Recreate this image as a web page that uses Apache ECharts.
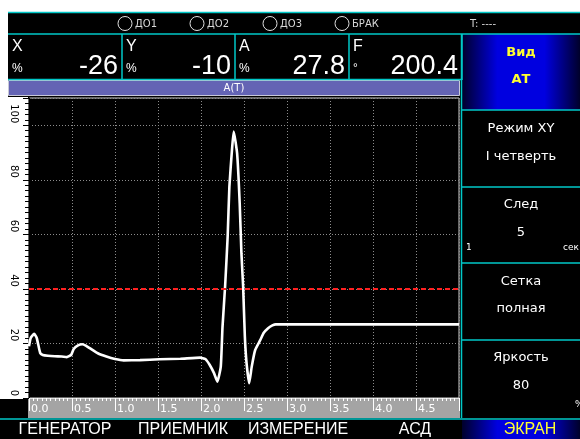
<!DOCTYPE html>
<html><head><meta charset="utf-8">
<script src="https://cdn.jsdelivr.net/npm/echarts@6/dist/echarts.min.js"></script>
<style>html,body{margin:0;padding:0;background:#fff}#c{width:580px;height:439px}</style>
</head><body><div id="c"></div>
<script>
// ---- data ----
const timeSec = [0.00,0.02,0.06,0.09,0.13,0.16,0.22,0.30,0.38,0.44,0.49,0.52,0.57,0.62,0.66,0.71,0.80,0.90,1.00,1.10,1.29,1.52,1.76,1.99,2.05,2.10,2.15,2.19,2.23,2.25,2.28,2.31,2.33,2.36,2.38,2.42,2.45,2.47,2.49,2.51,2.53,2.56,2.59,2.63,2.69,2.73,2.78,2.83,2.87,3.15,3.62,4.31,5.00];
const amplitude = [19.0,22.0,23.5,22.0,16.5,15.8,15.5,15.3,15.2,15.0,15.8,18.0,19.3,19.7,19.2,18.2,16.4,15.2,14.3,13.8,13.9,14.2,14.4,14.8,14.3,12.2,9.2,6.0,11.5,26.0,40.8,59.2,77.5,90.9,97.7,89.7,71.4,53.1,40.8,22.5,12.7,5.4,11.5,17.6,21.3,23.9,25.6,26.6,27.0,27.0,27.0,27.0,27.0];
const threshold = 40;
const chartTitle = 'A(T)';
const statusItems = ['ДО1','ДО2','ДО3','БРАК'];
const timerText = 'T: ----';
const readoutNames = ['X','Y','A','F'];
const readoutUnits = ['%','%','%','°'];
const readoutValues = ['-26','-10','27.8','200.4'];
const sideTitles = ['Вид','Режим XY','След','Сетка','Яркость'];
const sideValues = ['АТ','I четверть','5','полная','80'];
const menuItems = ['ГЕНЕРАТОР','ПРИЕМНИК','ИЗМЕРЕНИЕ','АСД','ЭКРАН'];

// ---- layout helpers (UI chrome only) ----
const CY = '#00c8c8';
const F = '"Liberation Sans", Arial, sans-serif';
const FD = '"DejaVu Sans", sans-serif';
function txt(x,y,t,font,fill,align,valign){return {type:'text',x:x,y:y,silent:true,style:{text:t,font:font,fill:fill,textAlign:align||'left',align:align||'left',textVerticalAlign:valign||'middle',verticalAlign:valign||'middle'}};}
function rect(x,y,w,h,fill,extra){return Object.assign({type:'rect',silent:true,shape:{x:x,y:y,width:w,height:h},style:{fill:fill}},extra||{});}
function hline(x1,x2,y,c,w){return {type:'line',silent:true,shape:{x1:x1,y1:y,x2:x2,y2:y},style:{stroke:c,lineWidth:w||1}};}
function vline(x,y1,y2,c,w){return {type:'line',silent:true,shape:{x1:x,y1:y1,x2:x,y2:y2},style:{stroke:c,lineWidth:w||1}};}
function blueGrad(){return new echarts.graphic.LinearGradient(0,0,1,0,[{offset:0,color:'#00002a'},{offset:0.3,color:'#0000e0'},{offset:0.7,color:'#0000e0'},{offset:1,color:'#00002a'}]);}

const bg = [];
const fg = [];
// white areas
bg.push(rect(0,0,580,12,'#ffffff'));
bg.push(rect(0,0,8,97,'#ffffff'));
bg.push(rect(0,97,28,302,'#ffffff'));
// x ruler
bg.push(rect(28,399,432,19,'#a4a4a4'));
// top header lines
fg.push(hline(8,580,12.5,CY,1.5));
fg.push(hline(8,580,34,CY,1.5));
// status
const statusX = [125,197,270,342];
statusItems.forEach((s,i)=>{
  fg.push({type:'circle',silent:true,shape:{cx:statusX[i],cy:23.5,r:7},style:{fill:'none',stroke:'#e0e0e0',lineWidth:1}});
  fg.push(txt(statusX[i]+10,24,s,'10px '+FD,'#d8d8d8'));
});
fg.push(txt(470,24,timerText,'10px '+FD,'#d8d8d8'));
// readouts
const cellR = [122,235,349,462];
const cellL = [8,122,235,349];
readoutNames.forEach((n,i)=>{
  fg.push(txt(cellL[i]+4,47,n,'16px '+F,'#ffffff'));
  fg.push(txt(cellL[i]+4,69,readoutUnits[i],'12px '+F,'#ffffff'));
  fg.push(txt(cellR[i]-4,67,readoutValues[i],'27px '+F,'#ffffff','right'));
  fg.push(vline(cellR[i],34,80,CY,1.5));
});
fg.push(hline(8,462,79.5,CY,1.5));
// purple title bar
bg.push(rect(8.5,80.5,451,15,'#6464b4',{style:{fill:'#6464b4',stroke:'#c8c8d8',lineWidth:1}}));
fg.push(txt(234,88.5,chartTitle,'10px '+FD,'#ffffff','center'));
// right side panel
bg.push(rect(462,34,118,76,blueGrad()));
fg.push(vline(461.5,34,418,CY,1.5));
const sepY = [110,187,263,340];
sepY.forEach(y=>fg.push(hline(462,580,y,CY,1.5)));
const titleY = [53,129,205,282,358];
const valueY = [80,157,233,309,386];
sideTitles.forEach((t,i)=>{
  const c = i===0 ? '#ffff30' : '#ffffff';
  const fw = i===0 ? 'bold ' : '';
  fg.push(txt(521,titleY[i],t,fw+'13px '+FD,c,'center'));
  fg.push(txt(521,valueY[i],sideValues[i],fw+'13px '+FD,c,'center'));
});
fg.push(txt(466,248,'1','9px '+FD,'#ffffff'));
fg.push(txt(563,248,'сек','9px '+FD,'#ffffff'));
fg.push(txt(575,405,'%','9px '+FD,'#ffffff'));
// bottom menu
fg.push(hline(0,580,419,CY,1.5));
bg.push(rect(462,420,118,19,blueGrad()));
const menuX = [65,183,298,415,530];
menuItems.forEach((m,i)=>{
  fg.push(txt(menuX[i],430,m,'16px '+F,i===4?'#ffff30':'#ffffff','center'));
});

const chart = echarts.init(document.getElementById('c'),null,{renderer:'canvas'});
chart.setOption({
  backgroundColor:'#000000',
  animation:false,
  grid:{left:29,top:98,width:430,height:300,show:true,backgroundColor:'#000000',borderColor:'#d0d0d0',borderWidth:1},
  xAxis:{type:'value',min:0,max:5,interval:0.5,
    axisLine:{show:true,lineStyle:{color:'#e0e0e0',width:1}},
    axisTick:{show:true,length:13,lineStyle:{color:'#ffffff',width:1}},
    minorTick:{show:true,splitNumber:10,length:3,lineStyle:{color:'#ffffff',width:1}},
    axisLabel:{show:true,color:'#ffffff',fontSize:11,fontFamily:'"DejaVu Sans", sans-serif',margin:6,align:'left',verticalAlign:'top',padding:[0,0,0,2],showMaxLabel:false,formatter:v=>v.toFixed(1)},
    splitLine:{show:true,lineStyle:{color:'#8c8c8c',type:[1,2],width:1}}
  },
  yAxis:{type:'value',min:0,max:110,interval:20,
    axisLine:{show:true,lineStyle:{color:'#000000',width:1}},
    axisTick:{show:true,length:6,lineStyle:{color:'#000000'}},
    minorTick:{show:true,splitNumber:10,length:4,lineStyle:{color:'#000000'}},
    axisLabel:{show:true,color:'#000000',fontSize:10,fontFamily:'"DejaVu Sans", sans-serif',rotate:-90,margin:15,align:'right',verticalAlign:'middle',padding:[0,2,0,0],showMaxLabel:false},
    splitLine:{show:true,lineStyle:{color:'#8c8c8c',type:[1,2],width:1}}
  },
  series:[{type:'line',data:timeSec.map((t,i)=>[t,amplitude[i]]),showSymbol:false,smooth:0.15,
    lineStyle:{color:'#ffffff',width:2.6},
    markLine:{silent:true,symbol:['none','none'],label:{show:false},
      lineStyle:{color:'#ff2020',type:[5,3],width:2},data:[{yAxis:threshold}]}
  }],
  graphic:[{type:'group',z:-10,children:bg},{type:'group',z:100,children:fg}]
});
</script></body></html>
